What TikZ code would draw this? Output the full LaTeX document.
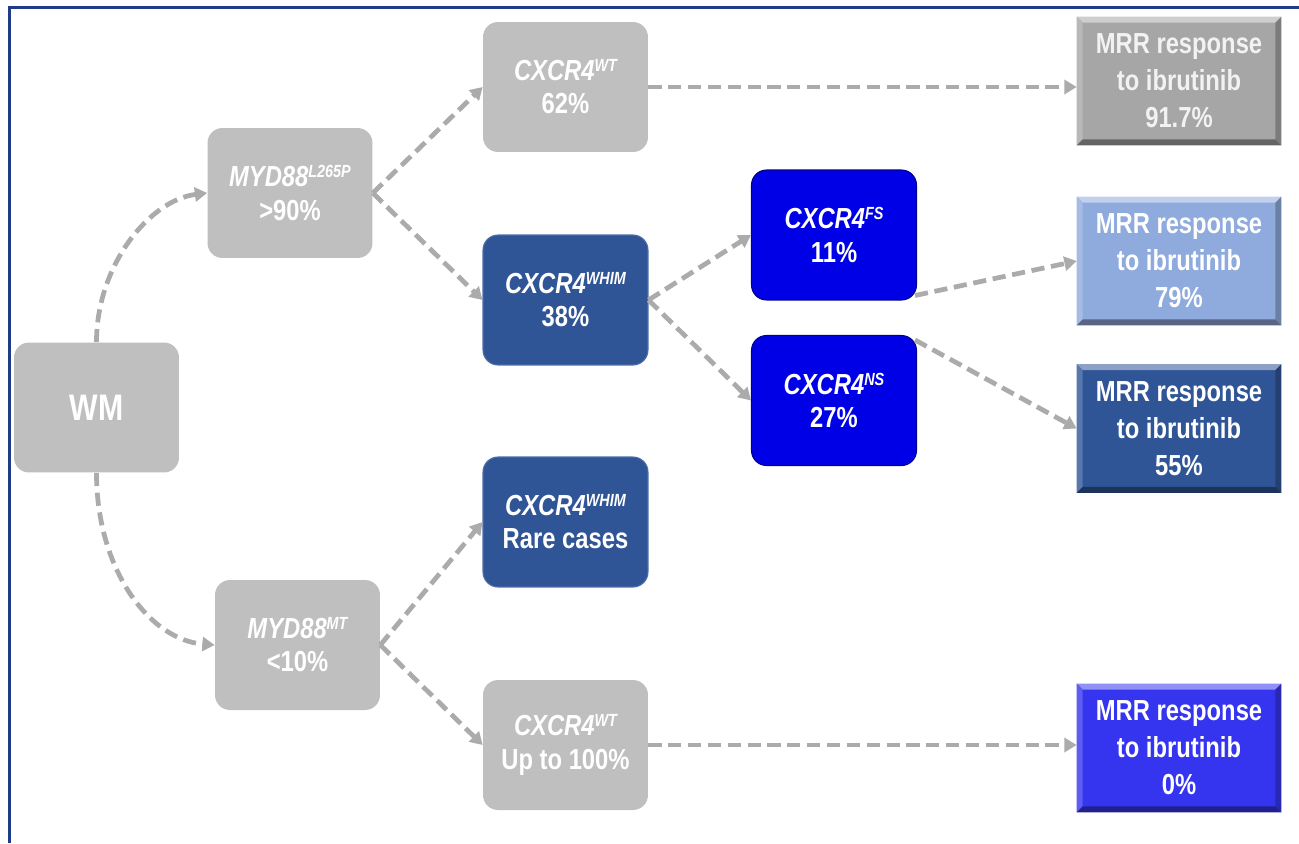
\documentclass[tikz,border=0pt]{standalone}
\usepackage{fontspec}
\setmainfont{Liberation Sans}[FakeStretch=0.82]
\usetikzlibrary{arrows.meta,calc}
\definecolor{gnode}{HTML}{BFBFBF}
\definecolor{whim}{HTML}{2F5597}
\definecolor{vblue}{HTML}{0000E6}
\definecolor{mgrey}{HTML}{A6A6A6}
\definecolor{mlight}{HTML}{8FAADC}
\definecolor{mdark}{HTML}{2F5597}
\definecolor{mblue}{HTML}{3535F0}
\definecolor{arrowc}{HTML}{ABABAB}
\definecolor{framec}{HTML}{1F3C88}
\newcommand\sups[1]{\raisebox{5pt}{\fontsize{10}{10}\selectfont #1}}
\newcommand\mrrbevel[2]{%
 \fill[#2!55!white] (#1.north west) -- (#1.north east) -- ($(#1.north east)+(-6,6)$) -- ($(#1.north west)+(6,6)$) -- cycle;
 \fill[#2!80!white] (#1.north west) -- ($(#1.north west)+(6,6)$) -- ($(#1.south west)+(6,-6)$) -- (#1.south west) -- cycle;
 \fill[#2!75!black] (#1.north east) -- (#1.south east) -- ($(#1.south east)+(-6,-6)$) -- ($(#1.north east)+(-6,6)$) -- cycle;
 \fill[#2!60!black] (#1.south west) -- (#1.south east) -- ($(#1.south east)+(-6,-6)$) -- ($(#1.south west)+(6,-6)$) -- cycle;
}
\tikzset{
 gbox/.style={rounded corners=0.3cm, minimum width=3.3cm, minimum height=2.6cm, inner sep=0pt,
   align=center, text=white, font=\fontsize{16.5}{19}\selectfont\bfseries},
 greybox/.style={gbox, fill=gnode},
 whimbox/.style={gbox, fill=whim, draw=whim!85!white, line width=0.6pt},
 bluebox/.style={gbox, fill=vblue, draw=vblue!60!black, line width=0.6pt},
 mrrbox/.style={minimum width=4.08cm, minimum height=2.56cm, inner sep=0pt, align=center,
   text=white, font=\fontsize{16.5}{21}\selectfont\bfseries},
 conn/.style={draw=arrowc, line width=2.7pt, dash pattern=on 7.5pt off 3.8pt,
   -{Triangle[length=7pt,width=8pt]}},
}
\begin{document}
\begin{tikzpicture}[x=0.02cm, y=-0.02cm]
\useasboundingbox (0,0) rectangle (1299,843);
\fill[white] (0,0) rectangle (1299,843);
\draw[framec, line width=1.7pt] (9.5,843) -- (9.5,7.5) -- (1299,7.5);

\node[greybox, font=\fontsize{21}{24}\selectfont\bfseries] (wm) at (96.5,407.5) {WM};
\node[greybox] (myd) at (290,193) {\textit{MYD88\sups{L265P}}\\>90\%};
\node[greybox] (myt) at (297.5,645) {\textit{MYD88\sups{MT}}\\<10\%};
\node[greybox] (wt1) at (565.5,87) {\textit{CXCR4\sups{WT}}\\62\%};
\node[whimbox] (wh1) at (565.5,300) {\textit{CXCR4\sups{WHIM}}\\38\%};
\node[whimbox] (wh2) at (565.5,522) {\textit{CXCR4\sups{WHIM}}\\Rare cases};
\node[greybox] (wt2) at (565.5,745) {\textit{CXCR4\sups{WT}}\\Up to 100\%};
\node[bluebox] (fs) at (834,235) {\textit{CXCR4\sups{FS}}\\11\%};
\node[bluebox] (ns) at (834,400.5) {\textit{CXCR4\sups{NS}}\\27\%};

\node[mrrbox, fill=mgrey, text=white!95!black] (r1) at (1179,81) {MRR response\\to ibrutinib\\91.7\%};
\node[mrrbox, fill=mlight] (r2) at (1179,261) {MRR response\\to ibrutinib\\79\%};
\node[mrrbox, fill=mdark] (r3) at (1179,428.5) {MRR response\\to ibrutinib\\55\%};
\node[mrrbox, fill=mblue] (r4) at (1179,748) {MRR response\\to ibrutinib\\0\%};
\mrrbevel{r1}{mgrey}
\mrrbevel{r2}{mlight}
\mrrbevel{r3}{mdark}
\mrrbevel{r4}{mblue}

\draw[conn] (wm.north) .. controls (96.5,265) and (150,200) .. (myd.west);
\draw[conn] (wm.south) .. controls (96.5,570) and (150,640) .. (myt.west);
\draw[conn] (myd.east) -- (wt1.west);
\draw[conn] (myd.east) -- (wh1.west);
\draw[conn] (myt.east) -- (wh2.west);
\draw[conn] (myt.east) -- (wt2.west);
\draw[conn] (wt1.east) -- (wt1.east -| r1.west);
\draw[conn] (wh1.east) -- (fs.west);
\draw[conn] (wh1.east) -- (ns.west);
\draw[conn] ($(fs.south east)+(-2,-5)$) -- (r2.west);
\draw[conn] ($(ns.north east)+(-2,5)$) -- (r3.west);
\draw[conn] (wt2.east) -- (wt2.east -| r4.west);
\end{tikzpicture}
\end{document}
